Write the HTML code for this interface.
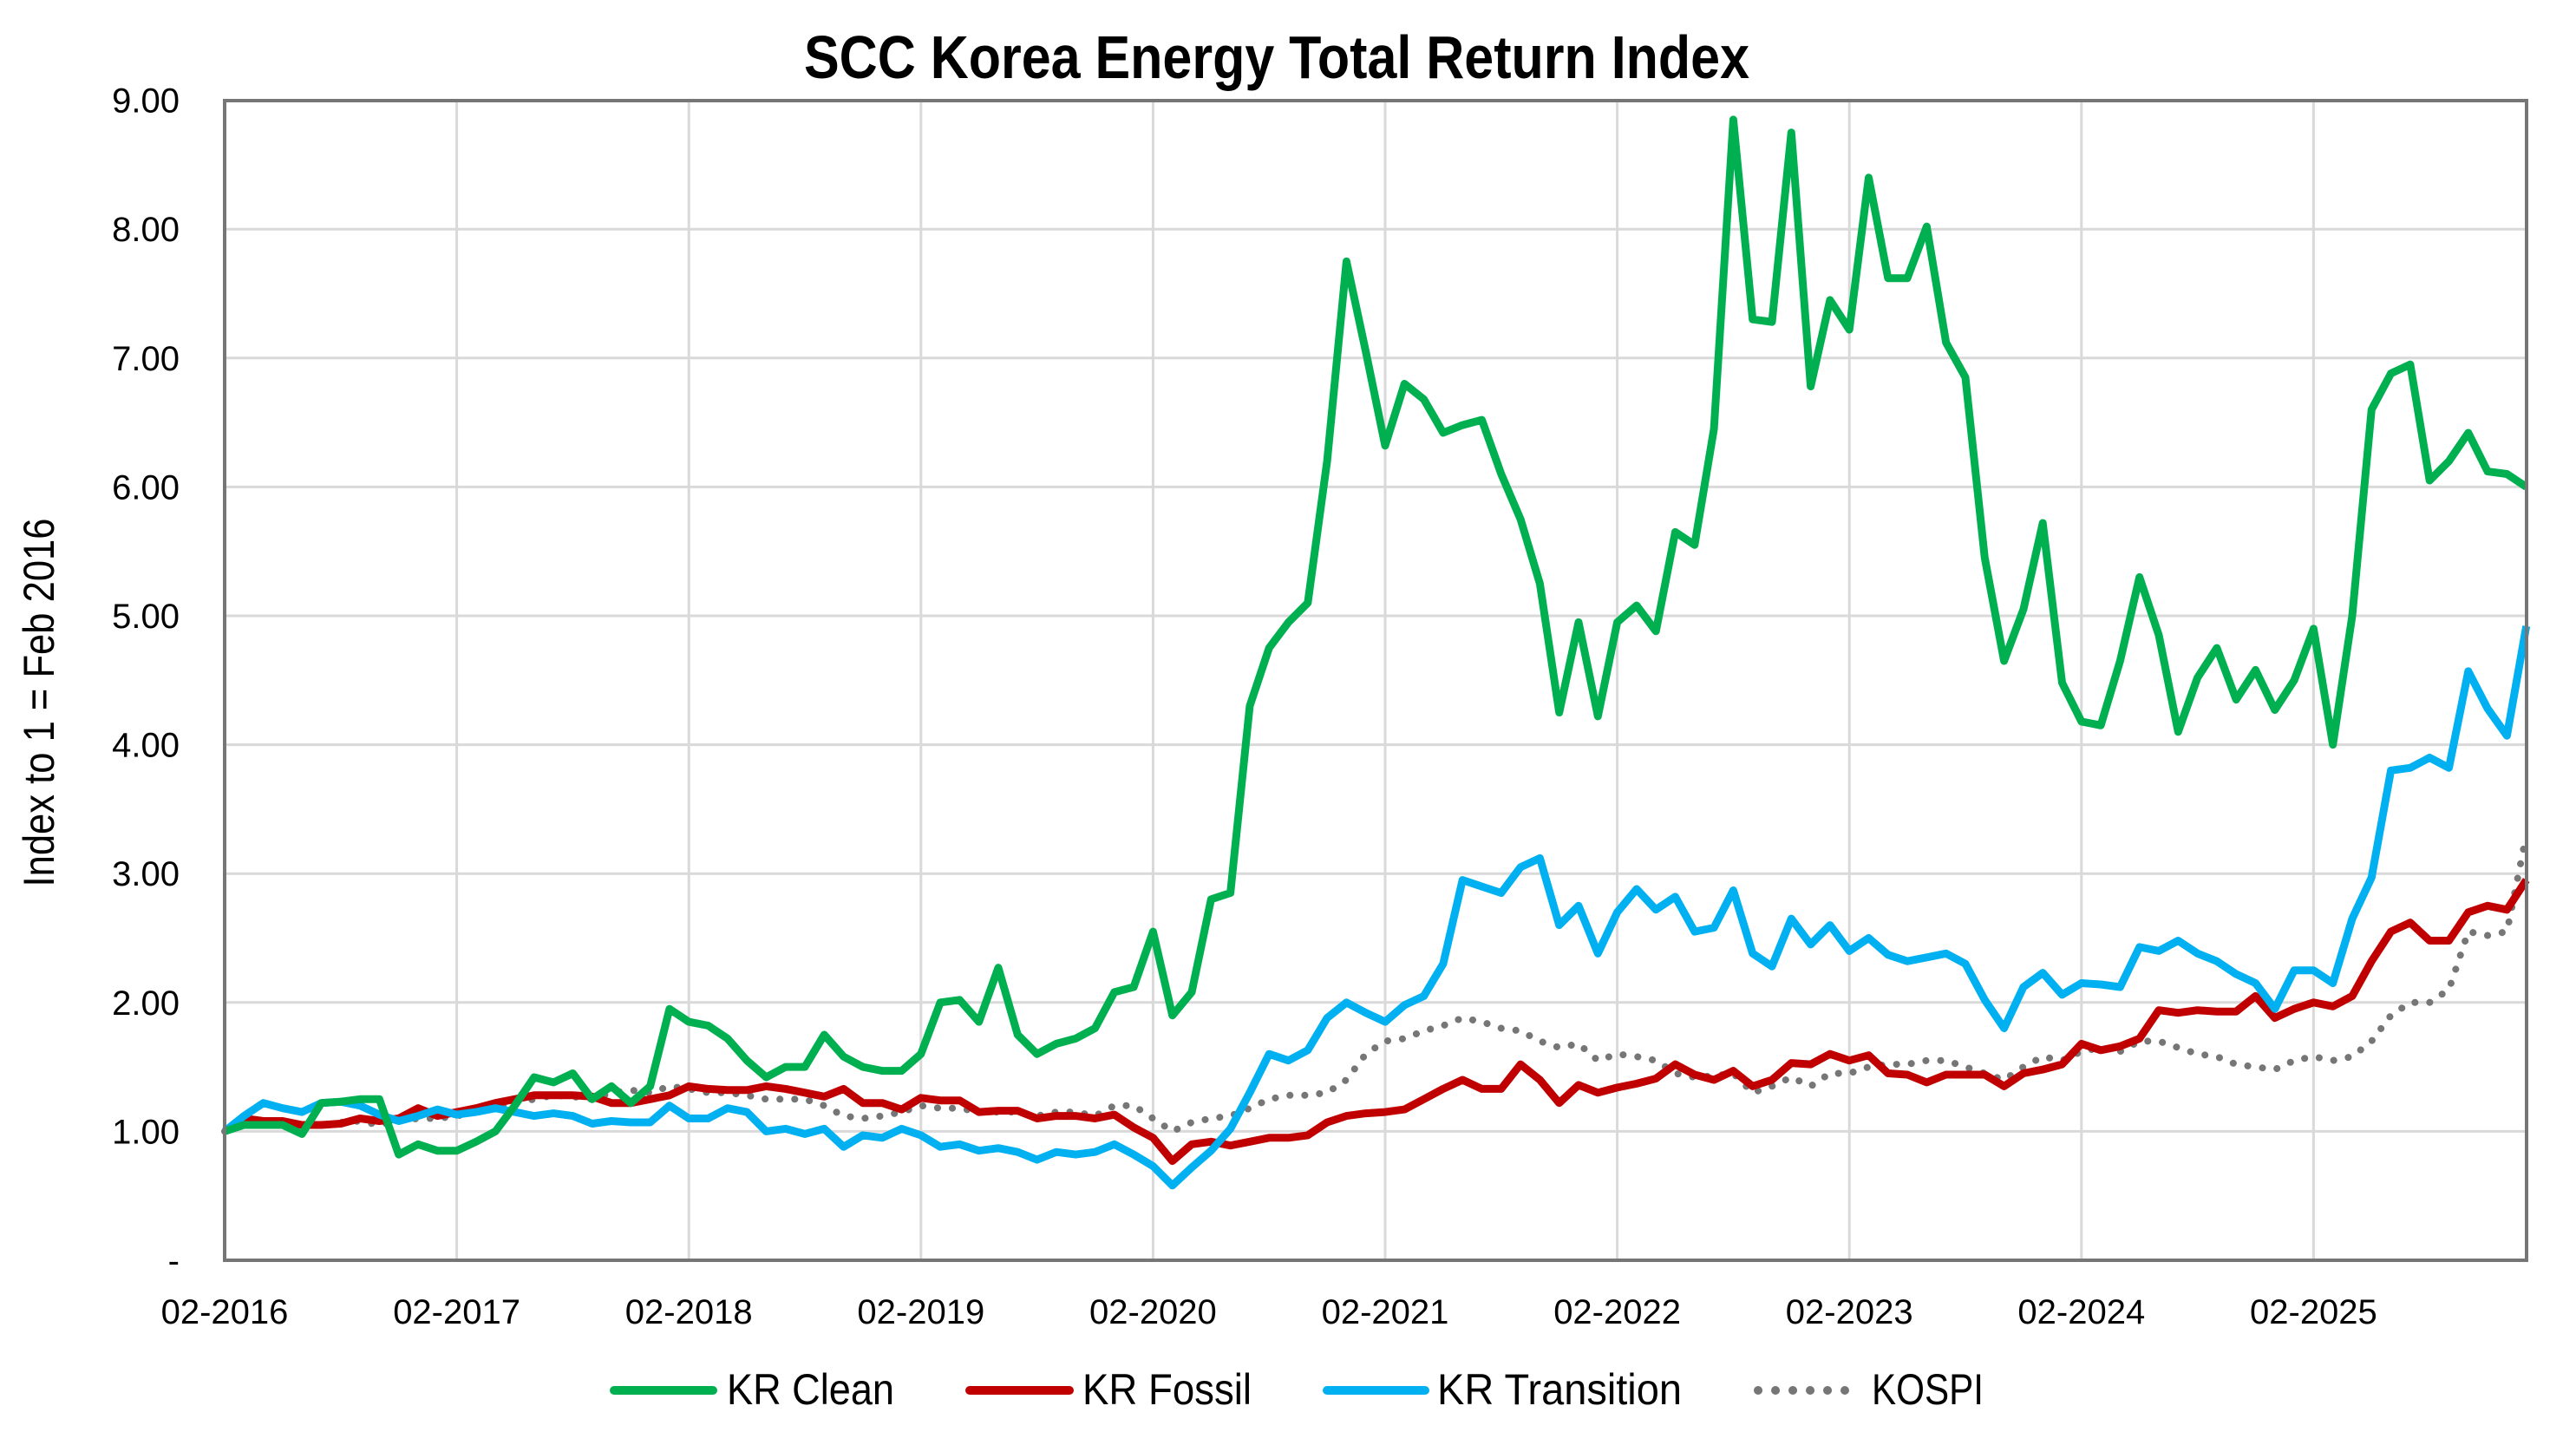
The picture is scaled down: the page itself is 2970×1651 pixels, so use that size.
<!DOCTYPE html>
<html><head><meta charset="utf-8"><style>
html,body{margin:0;padding:0;background:#fff;}
svg{display:block;}
text{font-family:"Liberation Sans",Arial,sans-serif;fill:#000;}
</style></head><body>
<svg id="c" width="2970" height="1651" viewBox="0 0 2970 1651" xmlns="http://www.w3.org/2000/svg">
<rect width="2970" height="1651" fill="#fff"/>
<g id="grid" stroke="#d9d9d9" stroke-width="3"></g>
<g id="series" fill="none" stroke-linejoin="round"></g>
<rect x="259" y="116" width="2654" height="1337" fill="none" stroke="#767676" stroke-width="4"/>
<g id="labels" font-size="40"></g>
<text x="1472" y="90" font-size="70" font-weight="bold" text-anchor="middle" textLength="1090" lengthAdjust="spacingAndGlyphs">SCC Korea Energy Total Return Index</text>
<text transform="translate(62,810) rotate(-90)" font-size="50" text-anchor="middle" textLength="425" lengthAdjust="spacingAndGlyphs">Index to 1 = Feb 2016</text>
<g font-size="50">
<line x1="708" y1="1603" x2="822" y2="1603" stroke="#00b050" stroke-width="10" stroke-linecap="round"/>
<text x="838" y="1619" textLength="193" lengthAdjust="spacingAndGlyphs">KR Clean</text>
<line x1="1118" y1="1603" x2="1233" y2="1603" stroke="#c00000" stroke-width="10" stroke-linecap="round"/>
<text x="1248" y="1619" textLength="195" lengthAdjust="spacingAndGlyphs">KR Fossil</text>
<line x1="1530" y1="1603" x2="1643" y2="1603" stroke="#00b0f0" stroke-width="10" stroke-linecap="round"/>
<text x="1657" y="1619" textLength="282" lengthAdjust="spacingAndGlyphs">KR Transition</text>
<line x1="2027" y1="1603" x2="2127" y2="1603" stroke="#767676" stroke-width="10" stroke-linecap="round" stroke-dasharray="0.1 19.9"/>
<text x="2158" y="1619" textLength="129" lengthAdjust="spacingAndGlyphs">KOSPI</text>
</g>
</svg>
<script>
var NS="http://www.w3.org/2000/svg";
var X0=259,DX=22.3,Y0=1453,DY=148.6;
function el(t,a,p){var e=document.createElementNS(NS,t);for(var k in a)e.setAttribute(k,a[k]);p.appendChild(e);return e;}
var grid=document.getElementById("grid"),lab=document.getElementById("labels");
for(var v=1;v<=9;v++){var y=Y0-v*DY;el("line",{x1:X0,x2:2913,y1:y,y2:y},grid);}
for(var i=1;i<=9;i++){var x=X0+i*12*DX;el("line",{x1:x,x2:x,y1:116,y2:1453},grid);}
for(var v=0;v<=9;v++){var t=el("text",{x:207,y:Y0-v*DY+14,"text-anchor":"end"},lab);t.textContent=v==0?"-":v+".00";}
for(var i=0;i<=9;i++){var t=el("text",{x:X0+i*12*DX,y:1526,"text-anchor":"middle"},lab);t.textContent="02-"+(2016+i);}
var clean=[1.00,1.05,1.05,1.05,0.98,1.22,1.23,1.25,1.25,0.82,0.90,0.85,0.85,0.92,1.00,1.20,1.42,1.38,1.45,1.25,1.35,1.22,1.35,1.95,1.85,1.82,1.72,1.55,1.42,1.50,1.50,1.75,1.58,1.50,1.47,1.47,1.60,2.00,2.02,1.85,2.27,1.75,1.60,1.68,1.72,1.80,2.08,2.12,2.55,1.90,2.08,2.80,2.85,4.30,4.75,4.95,5.10,6.20,7.75,7.05,6.32,6.80,6.68,6.42,6.48,6.52,6.10,5.75,5.25,4.25,4.95,4.22,4.95,5.08,4.88,5.65,5.55,6.45,8.85,7.30,7.28,8.75,6.78,7.45,7.22,8.40,7.62,7.62,8.02,7.12,6.85,5.45,4.65,5.05,5.72,4.48,4.18,4.15,4.65,5.30,4.85,4.10,4.52,4.75,4.35,4.58,4.27,4.50,4.90,4.00,5.00,6.60,6.88,6.95,6.05,6.20,6.42,6.12,6.10,6.00];
var trans=[1.00,1.12,1.22,1.18,1.15,1.22,1.23,1.20,1.13,1.08,1.12,1.17,1.13,1.15,1.18,1.15,1.12,1.14,1.12,1.06,1.08,1.07,1.07,1.20,1.10,1.10,1.18,1.15,1.00,1.02,0.98,1.02,0.88,0.97,0.95,1.02,0.97,0.88,0.90,0.85,0.87,0.84,0.78,0.84,0.82,0.84,0.90,0.82,0.73,0.58,0.72,0.85,1.02,1.30,1.60,1.55,1.63,1.88,2.00,1.92,1.85,1.98,2.05,2.30,2.95,2.90,2.85,3.05,3.12,2.60,2.75,2.38,2.70,2.88,2.72,2.82,2.55,2.58,2.87,2.38,2.28,2.65,2.45,2.60,2.40,2.50,2.37,2.32,2.35,2.38,2.30,2.02,1.80,2.12,2.23,2.06,2.15,2.14,2.12,2.43,2.40,2.48,2.38,2.32,2.22,2.15,1.95,2.25,2.25,2.15,2.65,2.97,3.80,3.82,3.90,3.82,4.57,4.28,4.07,4.92];
var fossil=[1.00,1.10,1.08,1.08,1.05,1.05,1.06,1.10,1.08,1.10,1.18,1.12,1.15,1.18,1.22,1.25,1.28,1.28,1.28,1.27,1.22,1.22,1.25,1.28,1.35,1.33,1.32,1.32,1.35,1.33,1.30,1.27,1.33,1.22,1.22,1.17,1.26,1.24,1.24,1.15,1.16,1.16,1.10,1.12,1.12,1.10,1.13,1.03,0.95,0.77,0.90,0.92,0.89,0.92,0.95,0.95,0.97,1.07,1.12,1.14,1.15,1.17,1.25,1.33,1.40,1.33,1.33,1.52,1.40,1.22,1.36,1.30,1.34,1.37,1.41,1.52,1.44,1.40,1.47,1.35,1.40,1.53,1.52,1.60,1.55,1.59,1.45,1.44,1.38,1.44,1.44,1.44,1.35,1.45,1.48,1.52,1.68,1.63,1.66,1.72,1.94,1.92,1.94,1.93,1.93,2.05,1.88,1.95,2.00,1.97,2.05,2.32,2.55,2.62,2.48,2.48,2.70,2.75,2.72,2.95];
var kospi=[1.00,1.05,1.05,1.05,1.05,1.05,1.07,1.08,1.05,1.08,1.10,1.10,1.12,1.15,1.18,1.22,1.25,1.28,1.27,1.25,1.30,1.32,1.30,1.35,1.33,1.30,1.30,1.28,1.25,1.25,1.25,1.20,1.12,1.10,1.12,1.15,1.20,1.18,1.18,1.15,1.15,1.15,1.12,1.15,1.15,1.12,1.20,1.20,1.10,1.00,1.07,1.10,1.12,1.18,1.25,1.28,1.28,1.30,1.40,1.60,1.70,1.72,1.78,1.82,1.88,1.85,1.80,1.78,1.70,1.65,1.68,1.55,1.60,1.58,1.55,1.45,1.42,1.43,1.45,1.30,1.35,1.42,1.35,1.45,1.45,1.50,1.52,1.52,1.55,1.55,1.50,1.45,1.40,1.50,1.58,1.55,1.62,1.65,1.62,1.70,1.70,1.65,1.60,1.58,1.52,1.50,1.48,1.55,1.58,1.55,1.58,1.70,1.90,2.00,2.00,2.10,2.55,2.52,2.55,3.30];
function pts(a){return a.map(function(v,i){return (X0+i*DX).toFixed(1)+","+(Y0-v*DY).toFixed(1);}).join(" ");}
var s=document.getElementById("series");
el("polyline",{points:pts(kospi),stroke:"#767676","stroke-width":8,"stroke-linecap":"round","stroke-dasharray":"0.1 17"},s);
el("polyline",{points:pts(fossil),stroke:"#c00000","stroke-width":9},s);
el("polyline",{points:pts(trans),stroke:"#00b0f0","stroke-width":9},s);
el("polyline",{points:pts(clean),stroke:"#00b050","stroke-width":9},s);
</script>
</body></html>
